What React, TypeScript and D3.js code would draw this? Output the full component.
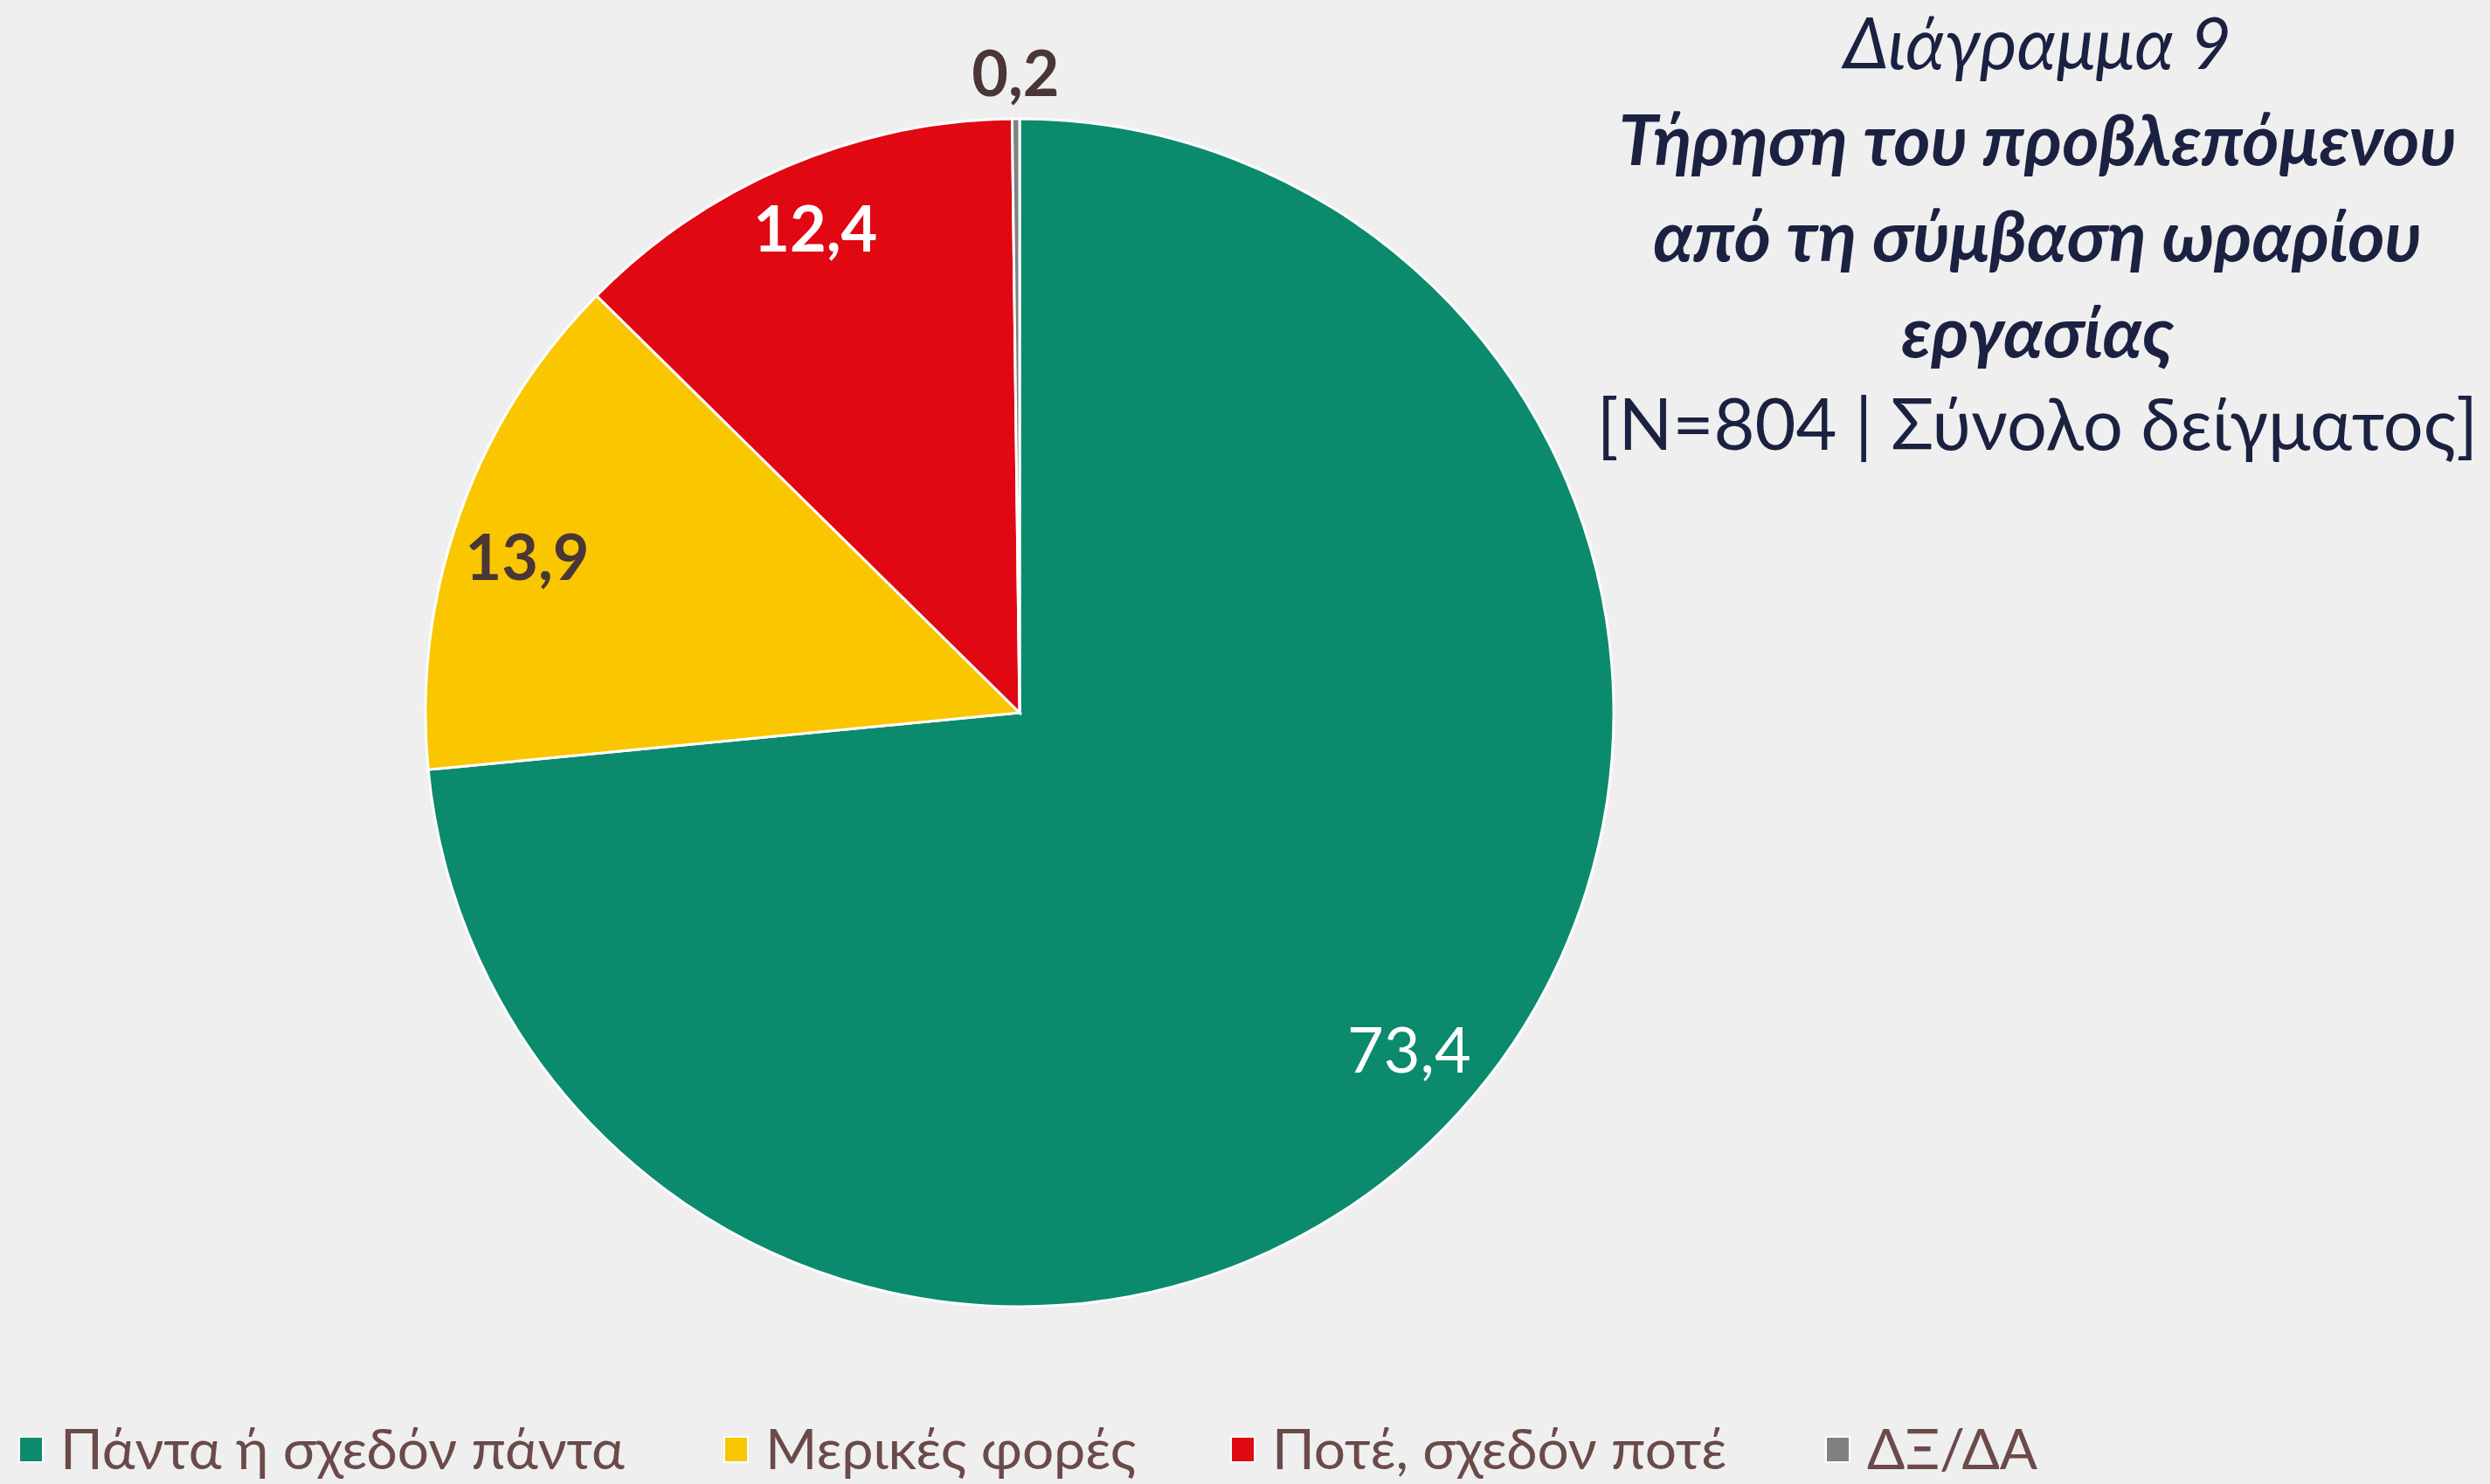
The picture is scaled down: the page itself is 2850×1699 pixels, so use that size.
import * as React from "react";
import * as d3 from "d3";

const categories = ["Πάντα ή σχεδόν πάντα", "Μερικές φορές", "Ποτέ, σχεδόν ποτέ", "ΔΞ/ΔΑ"];
const values = [73.4, 13.9, 12.4, 0.2];
const labels = ["73,4", "13,9", "12,4", "0,2"];
const colors = ["#0b8a6e", "#f9c600", "#e00812", "#808080"];
const labelColors = ["#ffffff", "#4a3636", "#ffffff", "#4a3636"];
const labelWeights = [400, 700, 700, 700];

const titleLines = [
  { text: "Διάγραμμα 9", weight: 400 },
  { text: "Τήρηση του προβλεπόμενου", weight: 700 },
  { text: "από τη σύμβαση ωραρίου", weight: 700 },
  { text: "εργασίας", weight: 700 },
];
const subtitle = "[N=804 | Σύνολο δείγματος]";

const W = 2850;
const H = 1699;
const cx = 1167;
const cy = 816;
const R = 680;

// legend layout (x of each swatch)
const legendX = [22, 829, 1409, 2090];

export default function App() {
  const pie = d3
    .pie<number>()
    .sort(null)
    .value(d => d);
  const arcs = pie(values);
  const arc = d3.arc<d3.PieArcDatum<number>>().innerRadius(0).outerRadius(R);
  const labelArc = d3
    .arc<d3.PieArcDatum<number>>()
    .innerRadius(R * 0.87)
    .outerRadius(R * 0.87);
  const outerArc = d3
    .arc<d3.PieArcDatum<number>>()
    .innerRadius(R * 1.08)
    .outerRadius(R * 1.08);
  // small nudges to match excel's label placement
  const nudge = [[8, -14], [-6, 18], [-2, -12], [0, 0]];

  const font = "Lato, 'Open Sans', sans-serif";

  return (
    <svg width={W} height={H} style={{ position: "absolute", left: 0, top: 0, background: "#efefef" }}>
      <rect width={W} height={H} fill="#efefef" />
      <g transform={`translate(${cx},${cy})`}>
        {arcs.map((a, i) => (
          <path key={categories[i]} d={arc(a) as string} fill={colors[i]} stroke="#ffffff" strokeWidth={3} />
        ))}
        {arcs.map((a, i) => {
          const [x, y] = a.value < 1 ? outerArc.centroid(a) : labelArc.centroid(a);
          return (
            <text
              key={labels[i]}
              x={x + nudge[i][0]}
              y={y + nudge[i][1]}
              textAnchor="middle"
              dominantBaseline="central"
              fontFamily={font}
              fontSize={72}
              fontWeight={labelWeights[i]}
              fill={labelColors[i]}
            >
              {labels[i]}
            </text>
          );
        })}
      </g>

      <g fontFamily={font} fill="#1b2140" textAnchor="middle">
        {titleLines.map((l, i) => (
          <text key={l.text} x={2332} y={79 + i * 110} fontSize={81} fontStyle="italic" fontWeight={l.weight}>
            {l.text}
          </text>
        ))}
        <text x={2332} y={515} fontSize={81}>
          {subtitle}
        </text>
      </g>

      <g fontFamily={font}>
        {categories.map((c, i) => (
          <g key={c} transform={`translate(${legendX[i]},1645)`}>
            <rect width={27} height={29} fill={colors[i]} stroke="#ffffff" strokeWidth={2} />
            <text x={47} y={37} fontSize={64} fill="#6b4a4a" fontWeight={400}>
              {c}
            </text>
          </g>
        ))}
      </g>
    </svg>
  );
}
